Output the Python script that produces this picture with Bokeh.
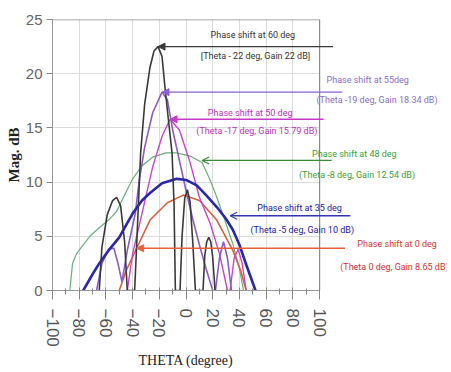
import numpy as np
from bokeh.plotting import figure
from bokeh.models import Range1d, Label, Arrow, NormalHead, OpenHead, FixedTicker, Title
from bokeh.embed import file_html
from bokeh.resources import INLINE

# ---- data ----
black_theta = [-65, -63, -59, -55, -52, -49, -46, -44, -40, -38.5, -36, -34, -31, -27, -24, -21, -18, -16, -13, -10.5, -9, -8, -4.5, -3, -1, 1, 3, 5, 7, 12.7, 14, 15.5, 17, 18.5, 20, 21.7]
black_gain = [0, 4, 7, 8.3, 8.6, 7.8, 4.5, 0, 0, 0, 7, 12.7, 17.2, 20.6, 22.1, 22.5, 21.6, 19, 15.5, 12.7, 8, 0, 0, 5, 8.5, 9.3, 8.2, 4.5, 0, 0, 3.2, 4.5, 4.9, 4.5, 3, 0]

purple_theta = [-67, -63, -58, -54, -51, -48, -44, -38, -35, -31, -25, -18, -14, -10, -5, 0, 5, 10, 15, 20, 22, 25, 28, 31, 34]
purple_gain = [0, 2.5, 3.8, 3.9, 2.5, 0.8, 3.7, 7.1, 10.2, 13.2, 16.4, 18.3, 17.6, 14.8, 12.0, 9.2, 6.6, 4.2, 2.0, 0, 0, 3.0, 4.5, 3.0, 0]

magenta_theta = [-44, -40, -33, -25, -18, -12, -5, 3, 10, 18, 25, 31, 33, 36, 39, 42, 45]
magenta_gain = [0, 3.4, 7.1, 11.4, 14.2, 15.8, 14.8, 11.8, 8.6, 6.2, 3.4, 0, 0, 3.0, 3.8, 2.5, 0]

green_theta = [-87, -85, -82, -77, -72, -64, -58, -52, -46, -40, -33, -25, -15, -7, 3, 12, 18, 23, 29, 35, 40, 43]
green_gain = [0, 2.5, 3.4, 4.2, 5.0, 5.9, 6.5, 7.3, 8.8, 10.3, 11.5, 12.3, 12.7, 12.7, 12.4, 11.8, 10.2, 8.6, 6.5, 4.3, 2.0, 0]

blue_theta = [-77, -70, -65, -58, -50, -45, -40, -33, -27, -18, -7, 0, 8, 15, 23, 30, 35, 40, 45, 52]
blue_gain = [0, 1.5, 2.5, 3.7, 4.9, 6.0, 7.1, 8.3, 9.0, 9.9, 10.3, 10.2, 9.7, 8.8, 7.7, 6.6, 5.6, 4.2, 2.4, 0]

red_theta = [-50, -45, -37, -27, -14, -2, 10, 23, 35, 41, 45]
red_gain = [0, 1.8, 3.9, 6.5, 8.1, 8.8, 8.3, 6.5, 3.7, 1.8, 0]

x_ticks = [-100, -80, -60, -40, -20, 0, 20, 40, 60, 80, 100]
y_ticks = [0, 5, 10, 15, 20, 25]

# annotations: tip (theta, gain), line end theta, two text lines
ann_tip_theta = [-21, -18, -12, 12, 33, -37]
ann_tip_gain = [22.5, 18.3, 15.8, 12.0, 6.9, 3.9]
ann_end_theta = [110, 117, 103, 109, 123, 119]
ann_title = ["Phase shift at 60 deg", "Phase shift at 55deg", "Phase shift at 50 deg",
             "Phase shift at 48 deg", "Phase shift at 35 deg", "Phase shift at 0 deg"]
ann_detail = ["[Theta - 22 deg, Gain 22 dB]", "(Theta -19 deg, Gain 18.34 dB)", "(Theta -17 deg, Gain 15.79 dB)",
              "(Theta -8 deg, Gain 12.54 dB)", "(Theta -5 deg, Gain 10 dB)", "(Theta 0 deg, Gain 8.65 dB)"]
ann_t1 = [(50, 23.6), (136, 19.4), (48, 16.4), (126, 12.6), (85, 7.6), (158, 4.3)]
ann_t2 = [(52, 21.6), (143, 17.6), (53, 14.7), (128, 10.7), (87, 5.6), (156, 2.2)]
ann_line_color = ["#3a3a3a", "#8a64c8", "#c838c8", "#3a8a3a", "#3535b5", "#e8603a"]
ann_text_color = ["#333333", "#8a6cc8", "#c030c0", "#3aa03a", "#2020a0", "#d83030"]

# frame spans whole width; axes limited to -100..100
x_view_end = 195
p = figure(width=451, height=372, output_backend="svg", toolbar_location=None,
           x_range=Range1d(-100, x_view_end), y_range=Range1d(0, 25),
           min_border_left=52, min_border_right=5, min_border_top=19, min_border_bottom=82)
p.background_fill_color = "white"
p.border_fill_color = "white"
p.outline_line_color = None

p.xaxis.ticker = FixedTicker(ticks=x_ticks, minor_ticks=list(range(-100, 101, 10)))
p.yaxis.ticker = FixedTicker(ticks=y_ticks, minor_ticks=[])
p.xaxis.bounds = (x_ticks[0], x_ticks[-1])
p.xgrid.grid_line_color = "#dcdcdc"
p.ygrid.grid_line_color = "#dcdcdc"
try:
    p.ygrid.cross_bounds = (x_ticks[0], x_ticks[-1])
except Exception:
    pass
p.xgrid.bounds = (x_ticks[0], x_ticks[-1])

for ax in (p.xaxis, p.yaxis):
    ax.axis_line_color = "#999999"
    ax.major_tick_line_color = "#888888"
    ax.minor_tick_line_color = "#888888"
    ax.major_label_text_color = "#555555"

p.xaxis.major_tick_out = 9
p.xaxis.major_tick_in = 3
p.xaxis.minor_tick_out = 4
p.xaxis.minor_tick_in = 2
p.xaxis.major_label_orientation = -np.pi / 2
p.xaxis.major_label_standoff = 9
p.xaxis.major_label_text_font = "Liberation Sans"
p.xaxis.major_label_text_font_size = "17px"

p.yaxis.major_tick_out = 6
p.yaxis.major_tick_in = 0
p.yaxis.minor_tick_out = 0
p.yaxis.major_label_text_font = "Liberation Sans"
p.yaxis.major_label_text_font_size = "15px"
p.yaxis.major_label_text_color = "#666666"
p.yaxis.major_label_standoff = 4
p.yaxis.axis_label = "Mag. dB"
p.yaxis.axis_label_text_font = "Liberation Serif"
p.yaxis.axis_label_text_font_style = "bold"
p.yaxis.axis_label_text_font_size = "15px"
p.yaxis.axis_label_text_color = "#222222"
p.yaxis.axis_label_standoff = 1

p.add_layout(Title(text="THETA (degree)", align="left", offset=86, text_font="Liberation Serif",
                   text_font_style="normal", text_font_size="14px", text_color="#222222",
                   standoff=2), "below")

# frame top and right border inside the -100..100 window
p.segment(x0=[x_ticks[0]], x1=[x_ticks[-1]], y0=[y_ticks[-1]], y1=[y_ticks[-1]],
          line_color="#8a8a8a", line_width=1.5)
p.segment(x0=[x_ticks[-1]], x1=[x_ticks[-1]], y0=[y_ticks[0]], y1=[y_ticks[-1]],
          line_color="#8a8a8a", line_width=1.2)

p.line(green_theta, green_gain, line_color="#6aae7a", line_width=1.2)
p.line(red_theta, red_gain, line_color="#d8603c", line_width=1.6)
p.line(magenta_theta, magenta_gain, line_color="#cc44cc", line_width=1.4)
p.line(purple_theta, purple_gain, line_color="#8a5cc8", line_width=1.6)
p.line(blue_theta, blue_gain, line_color="#2828a8", line_width=2.6)
p.line(black_theta, black_gain, line_color="#3a3a3a", line_width=1.6)

for i in range(len(ann_title)):
    head = OpenHead(size=7, line_color=ann_line_color[i], line_width=1.2) if i in (3, 4) else \
        NormalHead(size=7, fill_color=ann_line_color[i], line_color=ann_line_color[i])
    p.add_layout(Arrow(end=head, x_start=ann_end_theta[i], y_start=ann_tip_gain[i],
                       x_end=ann_tip_theta[i], y_end=ann_tip_gain[i],
                       line_color=ann_line_color[i], line_width=1.4))
    for (tx, ty), txt in ((ann_t1[i], ann_title[i]), (ann_t2[i], ann_detail[i])):
        p.add_layout(Label(x=tx, y=ty, text=txt, text_align="center", text_baseline="middle",
                           text_font="Roboto", text_font_size="9px",
                           text_color=ann_text_color[i]))

open("out.html", "w").write(file_html(p, INLINE))
